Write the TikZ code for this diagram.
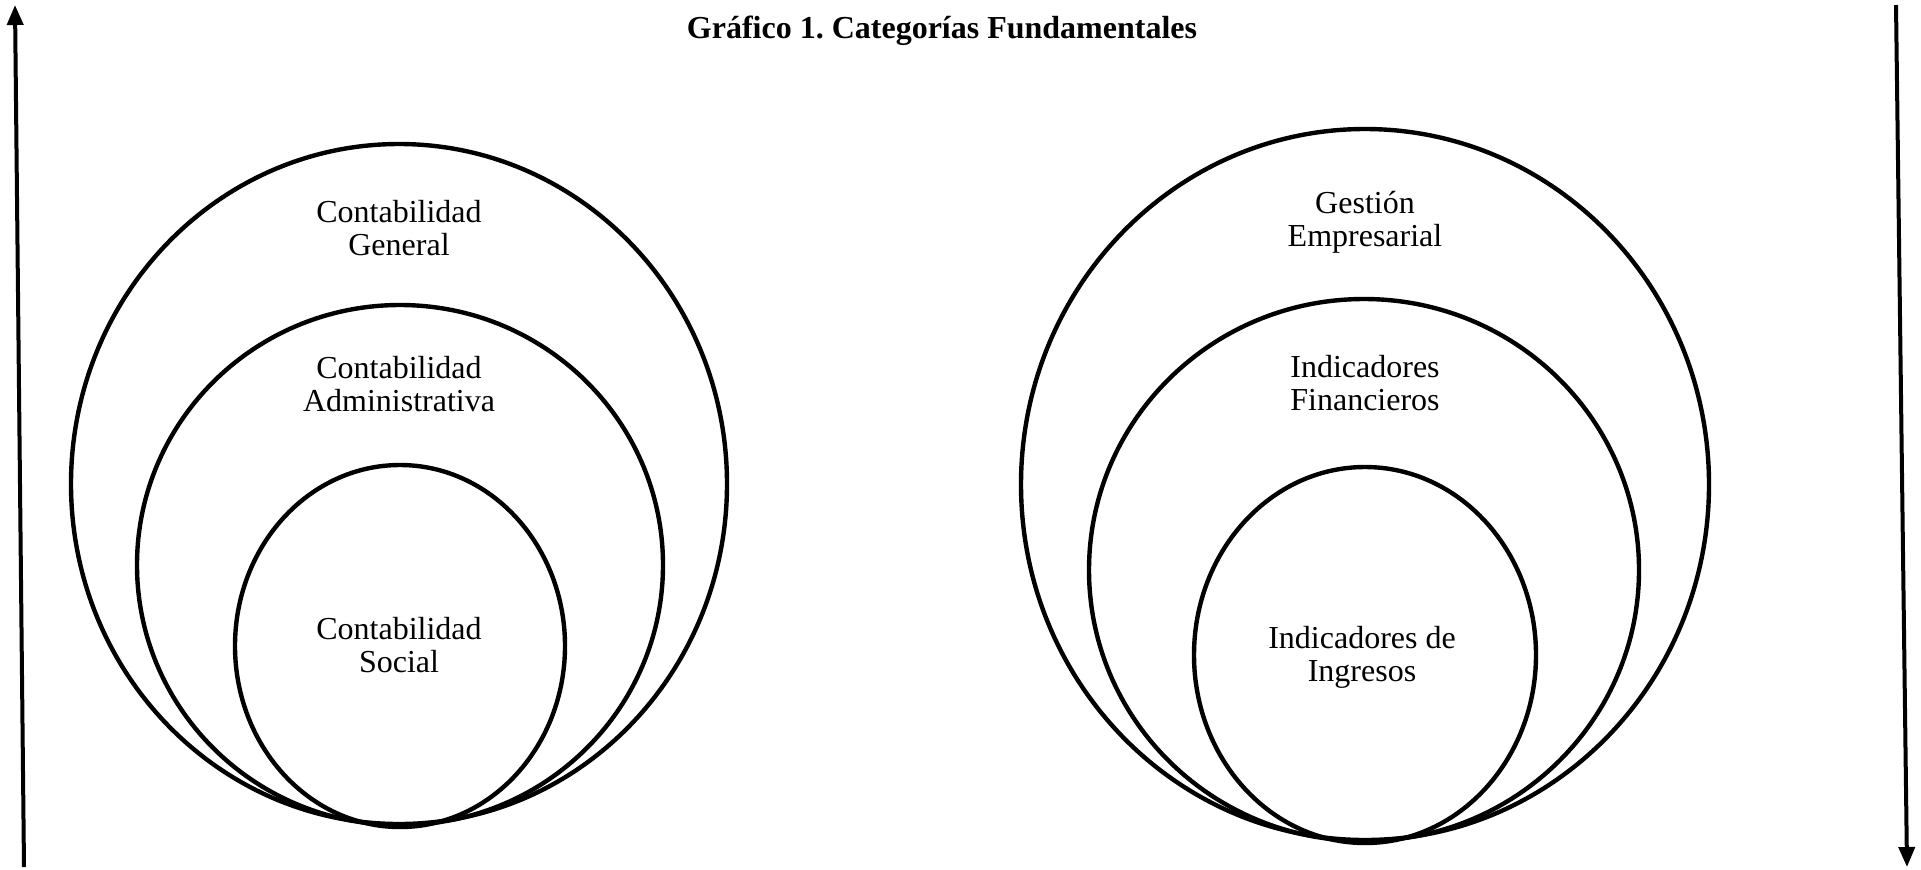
\documentclass[tikz,border=0pt]{standalone}
\usepackage{fontspec}
\setmainfont{Liberation Serif}
\usetikzlibrary{arrows.meta}
\usetikzlibrary{positioning}
\frenchspacing
\tikzset{
	mycategorias/.style = {
		x=0.5pt, y=-0.5pt, line width=2.2pt,
	},
	etiqueta/.style = {align=center, font=\fontsize{16}{16.5}\selectfont, inner sep=0pt},
	flecha/.style = {line width=2pt, -{Triangle[width=8pt,length=10pt]}},
}

\begin{document}
\begin{tikzpicture}[mycategorias]
		\useasboundingbox (0,0) rectangle (1921,869);
		\node[anchor=base, font=\fontsize{16}{19}\selectfont\bfseries] (titulo) at (942,38) {Gráfico 1. Categorías Fundamentales};
		
		\draw (399,484) ellipse [x radius=328, y radius=340];
		\draw (400,565) ellipse [x radius=263, y radius=260];
		\draw (400,646) ellipse [x radius=165, y radius=181];
		\node[etiqueta] (general) at (399,228) {Contabilidad\\General};
		\node[etiqueta] (admin) at (399,384) {Contabilidad\\Administrativa};
		\node[etiqueta] (social) at (399,645) {Contabilidad\\Social};
		
		\draw (1365,484.5) ellipse [x radius=344, y radius=355.5];
		\draw (1364,570) ellipse [x radius=275, y radius=271];
		\draw (1365,655) ellipse [x radius=171, y radius=188];
		\node[etiqueta] (gestion) at (1365,222) {Gestión\\Empresarial};
		\node[etiqueta] (financieros) at (1365,383) {Indicadores\\Financieros};
		\node[etiqueta] (ingresos) at (1362,657) {Indicadores de\\Ingresos};
		
		\coordinate (izqabajo) at (24,867);
		\coordinate (izqarriba) at (15,5);
		\coordinate (derarriba) at (1896,5);
		\coordinate (derabajo) at (1907,867);
		\draw[flecha] (izqabajo) -- (izqarriba);
		\draw[flecha] (derarriba) -- (derabajo);
	\end{tikzpicture}
\end{document}
